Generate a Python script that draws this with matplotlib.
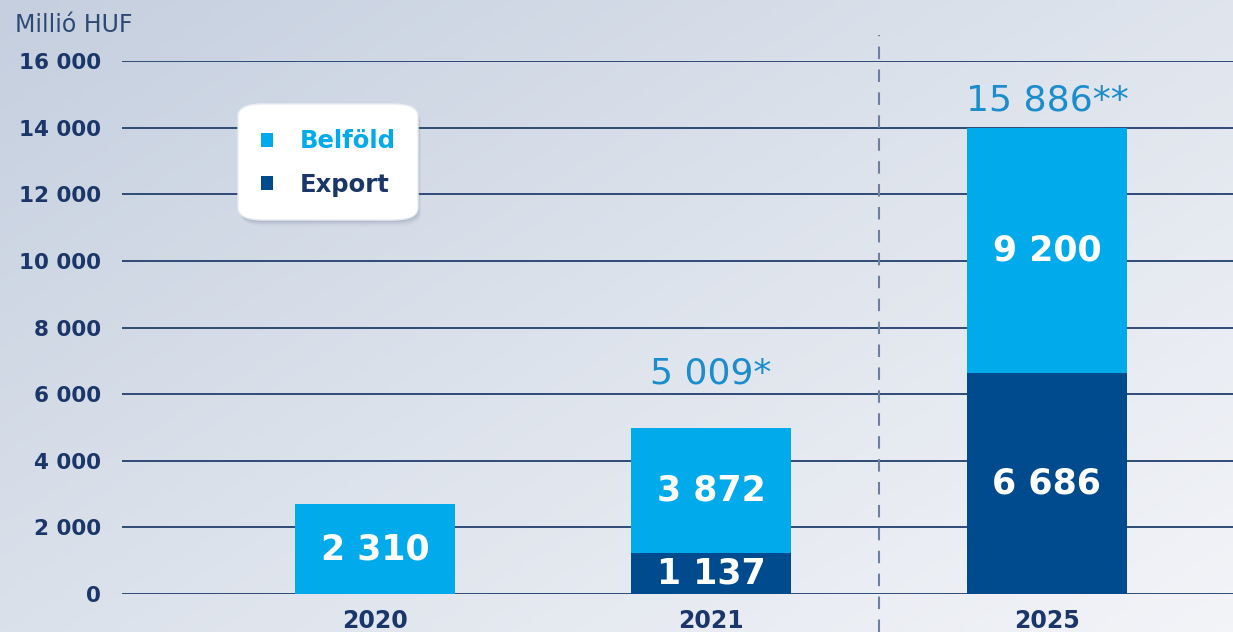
import numpy as np
import matplotlib.pyplot as plt
from matplotlib.colors import LinearSegmentedColormap
from matplotlib.patches import FancyBboxPatch

plt.rcParams['font.family'] = ['DejaVu Sans']

years = ['2020', '2021', '2025']
# bar heights as drawn in the picture
export_h = [0, 1230, 6630]
belfold_h = [2700, 3750, 7370]
# printed values
belfold_val = [2310, 3872, 9200]
export_val = [None, 1137, 6686]
total_val = [None, 5009, 15886]
total_mark = ['', '*', '**']
yticks = [0, 2000, 4000, 6000, 8000, 10000, 12000, 14000, 16000]

light = '#00aaeb'
dark = '#004a8e'
navy = '#1b3668'
total_col = '#1b8ccc'


def fmt(v):
    return '{:,}'.format(v).replace(',', ' ')


fig = plt.figure(figsize=(12.33, 6.32), dpi=100)

# background gradient
bg = fig.add_axes([0, 0, 1, 1], zorder=-10)
gx, gy = np.meshgrid(np.linspace(0, 1, 300), np.linspace(0, 1, 150))
grad = 0.55 * gx + 0.45 * gy
cmap = LinearSegmentedColormap.from_list('bg', ['#c5cfdf', '#dde3ec', '#f3f4f8'])
bg.imshow(grad, cmap=cmap, aspect='auto', extent=[0, 1, 0, 1], origin='upper')
bg.axis('off')

ax = fig.add_axes([122 / 1233, 38 / 632, 1 - 122 / 1233, 533 / 632])
ax.patch.set_alpha(0)
x = np.arange(len(years))
w = 0.476
b_exp = ax.bar(x, export_h, w, color=dark, label='Export', zorder=3)
b_bel = ax.bar(x, belfold_h, w, bottom=export_h, color=light, label='Belföld', zorder=3)

ax.set_xlim(-0.753, 2.554)
ax.set_ylim(0, 16000)
ax.set_yticks(yticks)
ax.set_yticklabels([fmt(v) for v in yticks], fontsize=15.5, fontweight='bold', color=navy)
ax.tick_params(axis='y', length=0, pad=15)
ax.tick_params(axis='x', length=0, pad=11)
ax.set_xticks(x)
ax.set_xticklabels(years, fontsize=17, fontweight='bold', color=navy)
ax.yaxis.grid(True, color='#2f4b76', lw=1.4)
ax.set_axisbelow(True)
for s in ax.spines.values():
    s.set_visible(False)

# segment labels
for i in range(len(years)):
    ax.text(x[i], export_h[i] + belfold_h[i] / 2, fmt(belfold_val[i]), ha='center', va='center',
            color='white', fontsize=25, fontweight='bold', zorder=4)
    if export_val[i] is not None:
        ax.text(x[i], export_h[i] / 2, fmt(export_val[i]), ha='center', va='center',
                color='white', fontsize=25, fontweight='bold', zorder=4)

offsets = [0, 55, 27]
for i in range(len(years)):
    if total_val[i] is not None:
        ax.annotate(fmt(total_val[i]) + total_mark[i], (x[i], export_h[i] + belfold_h[i]),
                    xytext=(0, offsets[i] * 0.72), textcoords='offset points',
                    ha='center', va='center', color=total_col, fontsize=26)

ax.axvline(1.5, ymin=-0.071, ymax=1.049, color='#6f7fa0', lw=1.5, ls=(0, (6, 5)),
           clip_on=False, zorder=2)

fig.text(15 / 1233, 1 - 25 / 632, 'Millió HUF', fontsize=17, color='#2e4a74', va='center')

# legend box with soft shadow
for k, a in [(6, 0.08), (4, 0.12), (2, 0.18)]:
    sh = FancyBboxPatch(((238 + k / 2) / 1233, 1 - (220 + k) / 632), 180 / 1233, 116 / 632,
                        boxstyle='round,pad=0,rounding_size=0.02', transform=fig.transFigure,
                        facecolor='#6f7e98', edgecolor='none', alpha=a, zorder=5, clip_on=False)
    ax.add_patch(sh)
box = FancyBboxPatch((238 / 1233, 1 - 220 / 632), 180 / 1233, 116 / 632,
                     boxstyle='round,pad=0,rounding_size=0.02', transform=fig.transFigure,
                     facecolor='white', edgecolor='#e8ecf2', lw=1, zorder=6, clip_on=False)
ax.add_patch(box)
leg = ax.legend(handles=[b_bel, b_exp], loc='center', bbox_to_anchor=(328 / 1233, 1 - 163 / 632),
                bbox_transform=fig.transFigure, frameon=False, prop={'size': 17.5, 'weight': 'bold'},
                handlelength=0.5, handleheight=0.5, handletextpad=1.1, labelspacing=0.8)
leg.set_zorder(7)
leg.get_texts()[0].set_color(light)
leg.get_texts()[1].set_color(navy)

fig.savefig('out.png', dpi=100)
